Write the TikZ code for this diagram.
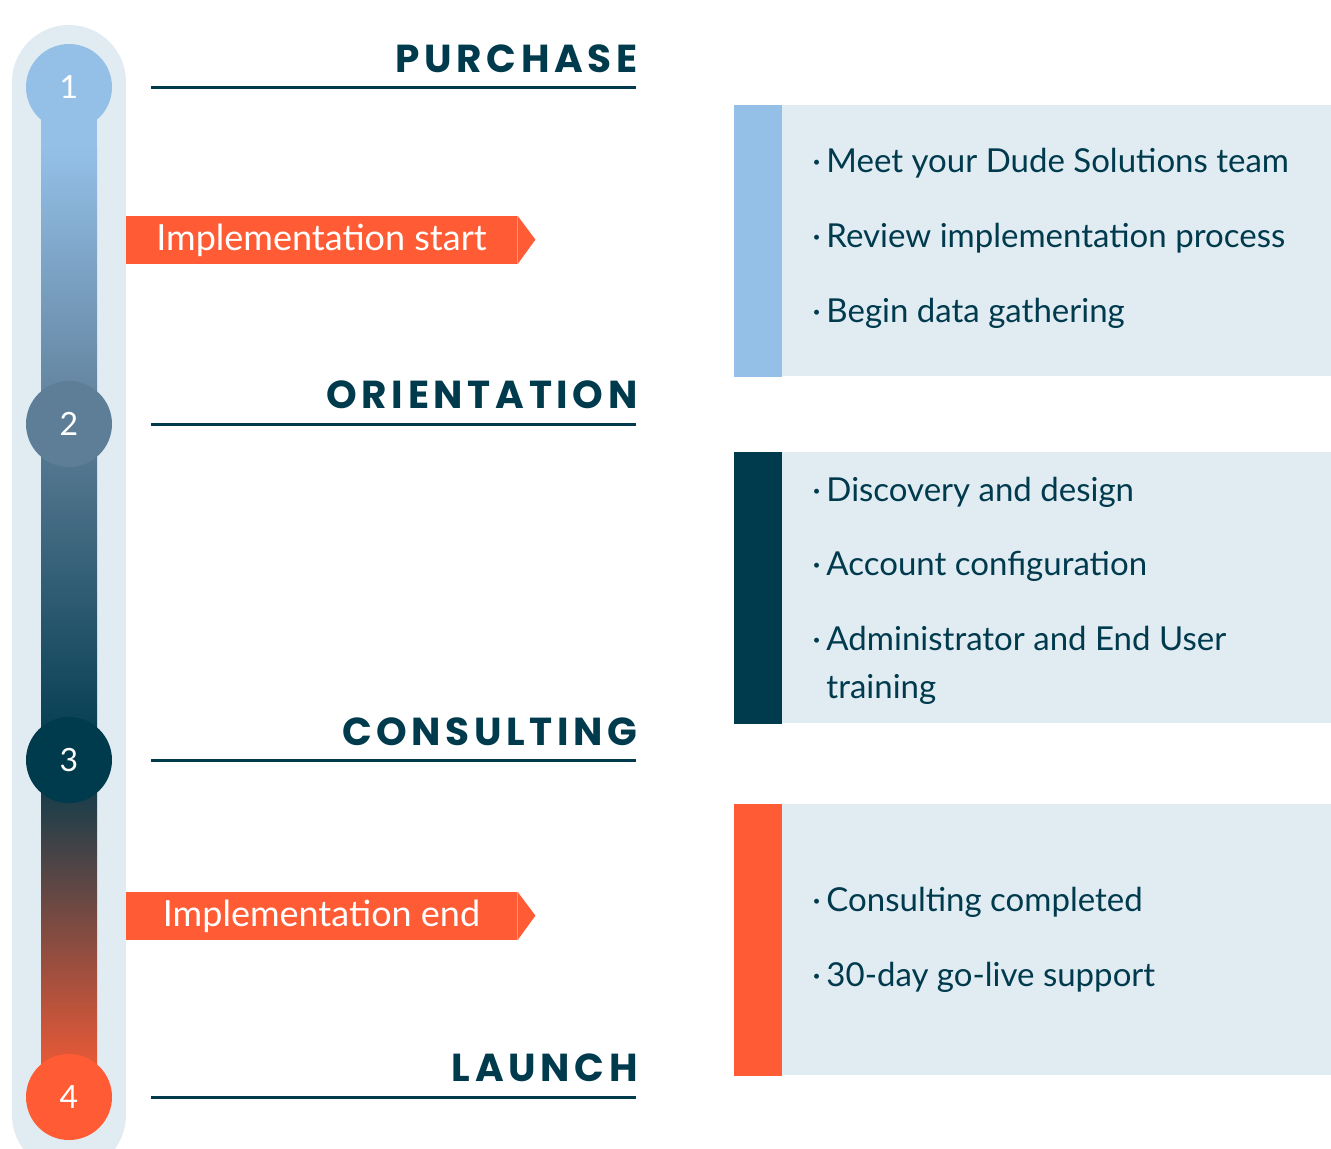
\documentclass[tikz,border=0pt]{standalone}
\usepackage{fontspec}
\setmainfont{Lato}
\newfontfamily\headfont[LetterSpace=12]{Poppins}
\usetikzlibrary{calc,positioning}

\begin{document}
\begin{tikzpicture}[x=0.5pt,y=-0.5pt]

\definecolor{trackblue}{RGB}{225,235,242}
\definecolor{skyblue}{RGB}{148,192,232}
\definecolor{slateblue}{RGB}{94,126,152}
\definecolor{deepteal}{RGB}{0,58,77}
\definecolor{flameorange}{RGB}{255,92,53}

\tikzset{
  stepdot/.style={circle,fill=#1,minimum size=43pt,inner sep=0pt,text=white,
    font=\fontsize{16}{16}\selectfont},
  heading/.style={anchor=base east,inner sep=0pt,text=deepteal,
    font=\headfont\bfseries\fontsize{19.5}{19.5}\selectfont},
  rule/.style={deepteal,line width=1.5pt},
  tagbox/.style={fill=flameorange,text=white,minimum width=195.5pt,minimum height=24pt,
    inner sep=0pt,font=\fontsize{18}{18}\selectfont},
  panel/.style={fill=trackblue,anchor=north west,minimum width=298.5pt,
    minimum height=135.5pt,inner sep=0pt},
  item/.style={anchor=base west,inner sep=0pt,text=deepteal,align=left,
    font=\fontsize{16.5}{24}\selectfont}
}

\useasboundingbox (0,0) rectangle (1331,1148);

\coordinate (c1) at (69,87);
\coordinate (c2) at (69,424);
\coordinate (c3) at (69,760);
\coordinate (c4) at (69,1097);

% track and bar
\fill [trackblue,rounded corners=28.5pt] (12,25) rectangle (126,1172);

\fill [skyblue] ($(c1)+(-28,0)$) rectangle ($(c1)+(28,60)$);
\shade [top color=skyblue,bottom color=slateblue] ($(c1)+(-28,59)$) rectangle ($(c2)+(28,0)$);
\shade [top color=slateblue,bottom color=deepteal] ($(c2)+(-28,0)$) rectangle ($(c3)+(28,0)$);
\shade [top color=deepteal,bottom color=flameorange] ($(c3)+(-28,0)$) rectangle ($(c4)+(28,0)$);

\node [stepdot=skyblue] (s1) at (c1) {1};
\node [stepdot=slateblue] (s2) at (c2) {2};
\node [stepdot=deepteal] (s3) at (c3) {3};
\node [stepdot=flameorange] (s4) at (c4) {4};

% headings
\node [heading] (purchase) at (638,72) {PURCHASE};
\node [heading] (orientation) at (638,408) {ORIENTATION};
\node [heading] (consulting) at (638,745) {CONSULTING};
\node [heading] (launch) at (638,1081) {LAUNCH};

\draw [rule] (151,87) -- (636,87);
\draw [rule] (151,424) -- (636,424);
\draw [rule] (151,760) -- (636,760);
\draw [rule] (151,1097) -- (636,1097);

% tags
\node [tagbox] (istart) at (321.5,240) {Implementation start};
\fill [flameorange] (istart.north east) -- ++(18,24) -- (istart.south east) -- cycle;

\node [tagbox] (iend) at (321.5,916) {Implementation end};
\fill [flameorange] (iend.north east) -- ++(18,24) -- (iend.south east) -- cycle;

% panels
\node [panel] (pan1) at (734,105) {};
\node [panel] (pan2) at (734,452) {};
\node [panel] (pan3) at (734,804) {};

\fill [skyblue] (pan1.north west) rectangle ($(pan1.south west)+(48,0)$);
\fill [deepteal] (pan2.north west) rectangle ($(pan2.south west)+(48,0)$);
\fill [flameorange] (pan3.north west) rectangle ($(pan3.south west)+(48,0)$);

\node [item] (m1) at (812,172) {·\,Meet your Dude Solutions team};
\node [item] (m2) at (812,247) {·\,Review implementation process};
\node [item] (m3) at (812,322) {·\,Begin data gathering};

\node [item] (m4) at (812,501) {·\,Discovery and design};
\node [item] (m5) at (812,575) {·\,Account configuration};
\node [item] (m6) at (812,698) {·\,Administrator and End User\\\phantom{·\,}training};

\node [item] (m7) at (812,911) {·\,Consulting completed};
\node [item] (m8) at (812,986) {·\,30-day go-live support};

\end{tikzpicture}
\end{document}
